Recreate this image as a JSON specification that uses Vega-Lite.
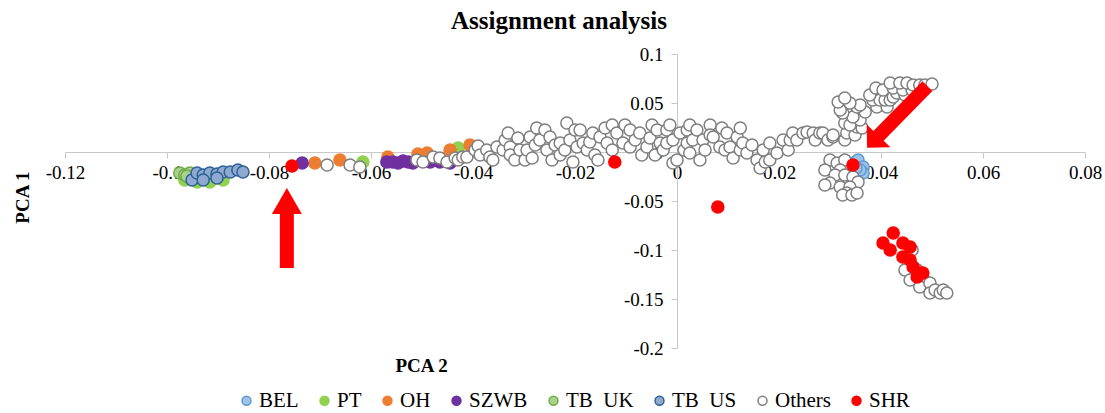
{
  "$schema": "https://vega.github.io/schema/vega-lite/v6.json",
  "width": 1020,
  "height": 294,
  "autosize": {"type": "none"},
  "padding": {"left": 65, "top": 54, "right": 20, "bottom": 65},
  "background": "white",
  "title": {"text": "Assignment analysis", "font": "Liberation Serif", "fontSize": 25, "fontWeight": "bold", "color": "black", "anchor": "middle", "frame": "group", "baseline": "alphabetic", "offset": 24, "dx": -16, "dy": 33},
  "config": {
    "font": "Liberation Serif",
    "view": {"stroke": null},
    "axis": {"grid": false, "domainColor": "#c8c8c8", "tickColor": "#c8c8c8", "tickSize": 6, "labelFont": "Liberation Serif", "labelFontSize": 19, "labelColor": "black", "titleFont": "Liberation Serif", "titleFontSize": 19, "titleFontWeight": "bold", "titleColor": "black", "labelFlush": false, "labelOverlap": false},
    "legend": {"labelFont": "Liberation Serif", "labelFontSize": 21, "labelColor": "black", "symbolType": "circle", "symbolSize": 80, "symbolStrokeWidth": 1.5, "columnPadding": 15, "labelOffset": 2}
  },
  "datasets": {
    "points": [
      {"group": "BEL", "pc2": 0.0345, "pc1": -0.0112},
      {"group": "BEL", "pc2": 0.0355, "pc1": -0.0082},
      {"group": "BEL", "pc2": 0.0365, "pc1": -0.0153},
      {"group": "BEL", "pc2": 0.0365, "pc1": -0.0214},
      {"group": "BEL", "pc2": 0.0359, "pc1": -0.0184},
      {"group": "BEL", "pc2": 0.0351, "pc1": -0.0163},
      {"group": "PT", "pc2": -0.0965, "pc1": -0.0286},
      {"group": "PT", "pc2": -0.0941, "pc1": -0.0306},
      {"group": "PT", "pc2": -0.0916, "pc1": -0.0306},
      {"group": "PT", "pc2": -0.0890, "pc1": -0.0286},
      {"group": "PT", "pc2": -0.0616, "pc1": -0.0102},
      {"group": "PT", "pc2": -0.0429, "pc1": 0.0041},
      {"group": "OH", "pc2": -0.0710, "pc1": -0.0112},
      {"group": "OH", "pc2": -0.0661, "pc1": -0.0082},
      {"group": "OH", "pc2": -0.0567, "pc1": -0.0051},
      {"group": "OH", "pc2": -0.0508, "pc1": -0.0020},
      {"group": "OH", "pc2": -0.0490, "pc1": -0.0010},
      {"group": "OH", "pc2": -0.0445, "pc1": 0.0020},
      {"group": "OH", "pc2": -0.0406, "pc1": 0.0071},
      {"group": "SZWB", "pc2": -0.0735, "pc1": -0.0112},
      {"group": "SZWB", "pc2": -0.0569, "pc1": -0.0102},
      {"group": "SZWB", "pc2": -0.0557, "pc1": -0.0102},
      {"group": "SZWB", "pc2": -0.0547, "pc1": -0.0112},
      {"group": "SZWB", "pc2": -0.0537, "pc1": -0.0092},
      {"group": "SZWB", "pc2": -0.0527, "pc1": -0.0102},
      {"group": "SZWB", "pc2": -0.0518, "pc1": -0.0112},
      {"group": "SZWB", "pc2": -0.0484, "pc1": -0.0102},
      {"group": "SZWB", "pc2": -0.0465, "pc1": -0.0102},
      {"group": "SZWB", "pc2": -0.0445, "pc1": -0.0112},
      {"group": "TB UK", "pc2": -0.0975, "pc1": -0.0214},
      {"group": "TB UK", "pc2": -0.0965, "pc1": -0.0235},
      {"group": "TB UK", "pc2": -0.0955, "pc1": -0.0214},
      {"group": "TB UK", "pc2": -0.0961, "pc1": -0.0245},
      {"group": "TB US", "pc2": -0.0951, "pc1": -0.0286},
      {"group": "TB US", "pc2": -0.0941, "pc1": -0.0214},
      {"group": "TB US", "pc2": -0.0929, "pc1": -0.0235},
      {"group": "TB US", "pc2": -0.0916, "pc1": -0.0214},
      {"group": "TB US", "pc2": -0.0902, "pc1": -0.0224},
      {"group": "TB US", "pc2": -0.0890, "pc1": -0.0204},
      {"group": "TB US", "pc2": -0.0876, "pc1": -0.0204},
      {"group": "TB US", "pc2": -0.0861, "pc1": -0.0184},
      {"group": "TB US", "pc2": -0.0851, "pc1": -0.0204},
      {"group": "TB US", "pc2": -0.0929, "pc1": -0.0286},
      {"group": "TB US", "pc2": -0.0902, "pc1": -0.0265},
      {"group": "Others", "pc2": -0.0686, "pc1": -0.0133},
      {"group": "Others", "pc2": -0.0641, "pc1": -0.0133},
      {"group": "Others", "pc2": -0.0622, "pc1": -0.0153},
      {"group": "Others", "pc2": -0.0510, "pc1": -0.0082},
      {"group": "Others", "pc2": -0.0498, "pc1": -0.0102},
      {"group": "Others", "pc2": -0.0478, "pc1": -0.0051},
      {"group": "Others", "pc2": -0.0465, "pc1": -0.0061},
      {"group": "Others", "pc2": -0.0451, "pc1": -0.0102},
      {"group": "Others", "pc2": -0.0435, "pc1": -0.0061},
      {"group": "Others", "pc2": -0.0429, "pc1": -0.0082},
      {"group": "Others", "pc2": -0.0420, "pc1": -0.0051},
      {"group": "Others", "pc2": -0.0412, "pc1": -0.0051},
      {"group": "Others", "pc2": -0.0396, "pc1": 0.0020},
      {"group": "Others", "pc2": -0.0390, "pc1": 0.0061},
      {"group": "Others", "pc2": -0.0386, "pc1": -0.0031},
      {"group": "Others", "pc2": -0.0373, "pc1": 0.0020},
      {"group": "Others", "pc2": -0.0367, "pc1": -0.0051},
      {"group": "Others", "pc2": -0.0361, "pc1": -0.0082},
      {"group": "Others", "pc2": -0.0353, "pc1": 0.0051},
      {"group": "Others", "pc2": -0.0341, "pc1": 0.0020},
      {"group": "Others", "pc2": -0.0337, "pc1": 0.0122},
      {"group": "Others", "pc2": -0.0331, "pc1": 0.0194},
      {"group": "Others", "pc2": -0.0327, "pc1": 0.0051},
      {"group": "Others", "pc2": -0.0327, "pc1": -0.0031},
      {"group": "Others", "pc2": -0.0318, "pc1": -0.0082},
      {"group": "Others", "pc2": -0.0312, "pc1": 0.0143},
      {"group": "Others", "pc2": -0.0308, "pc1": 0.0020},
      {"group": "Others", "pc2": -0.0298, "pc1": -0.0082},
      {"group": "Others", "pc2": -0.0294, "pc1": 0.0020},
      {"group": "Others", "pc2": -0.0288, "pc1": 0.0153},
      {"group": "Others", "pc2": -0.0284, "pc1": -0.0061},
      {"group": "Others", "pc2": -0.0278, "pc1": 0.0071},
      {"group": "Others", "pc2": -0.0275, "pc1": 0.0245},
      {"group": "Others", "pc2": -0.0269, "pc1": 0.0122},
      {"group": "Others", "pc2": -0.0259, "pc1": 0.0224},
      {"group": "Others", "pc2": -0.0255, "pc1": 0.0020},
      {"group": "Others", "pc2": -0.0249, "pc1": 0.0153},
      {"group": "Others", "pc2": -0.0245, "pc1": -0.0082},
      {"group": "Others", "pc2": -0.0239, "pc1": 0.0071},
      {"group": "Others", "pc2": -0.0229, "pc1": 0.0092},
      {"group": "Others", "pc2": -0.0229, "pc1": -0.0031},
      {"group": "Others", "pc2": -0.0220, "pc1": 0.0020},
      {"group": "Others", "pc2": -0.0216, "pc1": 0.0296},
      {"group": "Others", "pc2": -0.0210, "pc1": 0.0122},
      {"group": "Others", "pc2": -0.0204, "pc1": -0.0102},
      {"group": "Others", "pc2": -0.0200, "pc1": 0.0224},
      {"group": "Others", "pc2": -0.0196, "pc1": 0.0051},
      {"group": "Others", "pc2": -0.0190, "pc1": 0.0224},
      {"group": "Others", "pc2": -0.0184, "pc1": 0.0092},
      {"group": "Others", "pc2": -0.0176, "pc1": 0.0020},
      {"group": "Others", "pc2": -0.0171, "pc1": 0.0102},
      {"group": "Others", "pc2": -0.0165, "pc1": 0.0194},
      {"group": "Others", "pc2": -0.0161, "pc1": -0.0031},
      {"group": "Others", "pc2": -0.0155, "pc1": -0.0082},
      {"group": "Others", "pc2": -0.0151, "pc1": 0.0153},
      {"group": "Others", "pc2": -0.0141, "pc1": 0.0245},
      {"group": "Others", "pc2": -0.0137, "pc1": 0.0092},
      {"group": "Others", "pc2": -0.0127, "pc1": 0.0276},
      {"group": "Others", "pc2": -0.0127, "pc1": 0.0020},
      {"group": "Others", "pc2": -0.0118, "pc1": 0.0194},
      {"group": "Others", "pc2": -0.0106, "pc1": 0.0092},
      {"group": "Others", "pc2": -0.0102, "pc1": 0.0276},
      {"group": "Others", "pc2": -0.0092, "pc1": 0.0051},
      {"group": "Others", "pc2": -0.0092, "pc1": 0.0224},
      {"group": "Others", "pc2": -0.0082, "pc1": 0.0122},
      {"group": "Others", "pc2": -0.0073, "pc1": 0.0194},
      {"group": "Others", "pc2": -0.0069, "pc1": -0.0031},
      {"group": "Others", "pc2": -0.0059, "pc1": 0.0051},
      {"group": "Others", "pc2": -0.0053, "pc1": 0.0143},
      {"group": "Others", "pc2": -0.0049, "pc1": 0.0276},
      {"group": "Others", "pc2": -0.0043, "pc1": -0.0031},
      {"group": "Others", "pc2": -0.0039, "pc1": 0.0224},
      {"group": "Others", "pc2": -0.0033, "pc1": 0.0092},
      {"group": "Others", "pc2": -0.0027, "pc1": 0.0020},
      {"group": "Others", "pc2": -0.0020, "pc1": 0.0224},
      {"group": "Others", "pc2": -0.0020, "pc1": 0.0092},
      {"group": "Others", "pc2": -0.0014, "pc1": 0.0276},
      {"group": "Others", "pc2": -0.0008, "pc1": 0.0122},
      {"group": "Others", "pc2": -0.0008, "pc1": -0.0112},
      {"group": "Others", "pc2": 0.0000, "pc1": -0.0082},
      {"group": "Others", "pc2": 0.0006, "pc1": 0.0194},
      {"group": "Others", "pc2": 0.0014, "pc1": 0.0020},
      {"group": "Others", "pc2": 0.0020, "pc1": 0.0224},
      {"group": "Others", "pc2": 0.0020, "pc1": 0.0092},
      {"group": "Others", "pc2": 0.0025, "pc1": -0.0010},
      {"group": "Others", "pc2": 0.0025, "pc1": 0.0276},
      {"group": "Others", "pc2": 0.0031, "pc1": 0.0122},
      {"group": "Others", "pc2": 0.0039, "pc1": 0.0224},
      {"group": "Others", "pc2": 0.0045, "pc1": -0.0082},
      {"group": "Others", "pc2": 0.0051, "pc1": 0.0122},
      {"group": "Others", "pc2": 0.0055, "pc1": 0.0020},
      {"group": "Others", "pc2": 0.0065, "pc1": 0.0276},
      {"group": "Others", "pc2": 0.0065, "pc1": 0.0173},
      {"group": "Others", "pc2": 0.0071, "pc1": 0.0153},
      {"group": "Others", "pc2": 0.0084, "pc1": 0.0051},
      {"group": "Others", "pc2": 0.0088, "pc1": 0.0245},
      {"group": "Others", "pc2": 0.0094, "pc1": 0.0020},
      {"group": "Others", "pc2": 0.0098, "pc1": 0.0194},
      {"group": "Others", "pc2": 0.0104, "pc1": 0.0051},
      {"group": "Others", "pc2": 0.0110, "pc1": -0.0061},
      {"group": "Others", "pc2": 0.0118, "pc1": 0.0153},
      {"group": "Others", "pc2": 0.0124, "pc1": 0.0245},
      {"group": "Others", "pc2": 0.0124, "pc1": 0.0020},
      {"group": "Others", "pc2": 0.0129, "pc1": 0.0092},
      {"group": "Others", "pc2": 0.0137, "pc1": -0.0010},
      {"group": "Others", "pc2": 0.0147, "pc1": 0.0071},
      {"group": "Others", "pc2": 0.0157, "pc1": -0.0082},
      {"group": "Others", "pc2": 0.0163, "pc1": -0.0163},
      {"group": "Others", "pc2": 0.0169, "pc1": 0.0020},
      {"group": "Others", "pc2": 0.0173, "pc1": -0.0102},
      {"group": "Others", "pc2": 0.0182, "pc1": 0.0092},
      {"group": "Others", "pc2": 0.0182, "pc1": -0.0082},
      {"group": "Others", "pc2": 0.0196, "pc1": -0.0010},
      {"group": "Others", "pc2": 0.0208, "pc1": 0.0122},
      {"group": "Others", "pc2": 0.0218, "pc1": 0.0020},
      {"group": "Others", "pc2": 0.0222, "pc1": 0.0122},
      {"group": "Others", "pc2": 0.0227, "pc1": 0.0194},
      {"group": "Others", "pc2": 0.0235, "pc1": 0.0122},
      {"group": "Others", "pc2": 0.0247, "pc1": 0.0194},
      {"group": "Others", "pc2": 0.0255, "pc1": 0.0204},
      {"group": "Others", "pc2": 0.0267, "pc1": 0.0194},
      {"group": "Others", "pc2": 0.0271, "pc1": 0.0122},
      {"group": "Others", "pc2": 0.0280, "pc1": 0.0194},
      {"group": "Others", "pc2": 0.0286, "pc1": 0.0194},
      {"group": "Others", "pc2": 0.0296, "pc1": 0.0122},
      {"group": "Others", "pc2": 0.0306, "pc1": 0.0153},
      {"group": "Others", "pc2": 0.0306, "pc1": 0.0173},
      {"group": "Others", "pc2": 0.0329, "pc1": 0.0122},
      {"group": "Others", "pc2": 0.0333, "pc1": 0.0194},
      {"group": "Others", "pc2": 0.0349, "pc1": 0.0173},
      {"group": "Others", "pc2": 0.0353, "pc1": 0.0255},
      {"group": "Others", "pc2": 0.0363, "pc1": 0.0245},
      {"group": "Others", "pc2": 0.0329, "pc1": 0.0296},
      {"group": "Others", "pc2": 0.0339, "pc1": 0.0276},
      {"group": "Others", "pc2": 0.0359, "pc1": 0.0327},
      {"group": "Others", "pc2": 0.0345, "pc1": 0.0357},
      {"group": "Others", "pc2": 0.0325, "pc1": 0.0398},
      {"group": "Others", "pc2": 0.0369, "pc1": 0.0408},
      {"group": "Others", "pc2": 0.0320, "pc1": 0.0429},
      {"group": "Others", "pc2": 0.0353, "pc1": 0.0459},
      {"group": "Others", "pc2": 0.0359, "pc1": 0.0480},
      {"group": "Others", "pc2": 0.0339, "pc1": 0.0500},
      {"group": "Others", "pc2": 0.0316, "pc1": 0.0510},
      {"group": "Others", "pc2": 0.0329, "pc1": 0.0551},
      {"group": "Others", "pc2": 0.0392, "pc1": 0.0459},
      {"group": "Others", "pc2": 0.0412, "pc1": 0.0459},
      {"group": "Others", "pc2": 0.0384, "pc1": 0.0531},
      {"group": "Others", "pc2": 0.0398, "pc1": 0.0531},
      {"group": "Others", "pc2": 0.0408, "pc1": 0.0531},
      {"group": "Others", "pc2": 0.0418, "pc1": 0.0531},
      {"group": "Others", "pc2": 0.0378, "pc1": 0.0582},
      {"group": "Others", "pc2": 0.0424, "pc1": 0.0561},
      {"group": "Others", "pc2": 0.0431, "pc1": 0.0602},
      {"group": "Others", "pc2": 0.0447, "pc1": 0.0582},
      {"group": "Others", "pc2": 0.0390, "pc1": 0.0653},
      {"group": "Others", "pc2": 0.0404, "pc1": 0.0633},
      {"group": "Others", "pc2": 0.0424, "pc1": 0.0653},
      {"group": "Others", "pc2": 0.0443, "pc1": 0.0633},
      {"group": "Others", "pc2": 0.0461, "pc1": 0.0633},
      {"group": "Others", "pc2": 0.0418, "pc1": 0.0704},
      {"group": "Others", "pc2": 0.0437, "pc1": 0.0704},
      {"group": "Others", "pc2": 0.0451, "pc1": 0.0704},
      {"group": "Others", "pc2": 0.0463, "pc1": 0.0684},
      {"group": "Others", "pc2": 0.0476, "pc1": 0.0684},
      {"group": "Others", "pc2": 0.0486, "pc1": 0.0684},
      {"group": "Others", "pc2": 0.0500, "pc1": 0.0694},
      {"group": "Others", "pc2": 0.0300, "pc1": -0.0082},
      {"group": "Others", "pc2": 0.0314, "pc1": -0.0112},
      {"group": "Others", "pc2": 0.0329, "pc1": -0.0082},
      {"group": "Others", "pc2": 0.0290, "pc1": -0.0184},
      {"group": "Others", "pc2": 0.0320, "pc1": -0.0184},
      {"group": "Others", "pc2": 0.0310, "pc1": -0.0235},
      {"group": "Others", "pc2": 0.0329, "pc1": -0.0235},
      {"group": "Others", "pc2": 0.0345, "pc1": -0.0255},
      {"group": "Others", "pc2": 0.0355, "pc1": -0.0306},
      {"group": "Others", "pc2": 0.0300, "pc1": -0.0316},
      {"group": "Others", "pc2": 0.0290, "pc1": -0.0337},
      {"group": "Others", "pc2": 0.0320, "pc1": -0.0357},
      {"group": "Others", "pc2": 0.0339, "pc1": -0.0357},
      {"group": "Others", "pc2": 0.0333, "pc1": -0.0418},
      {"group": "Others", "pc2": 0.0325, "pc1": -0.0439},
      {"group": "Others", "pc2": 0.0343, "pc1": -0.0439},
      {"group": "Others", "pc2": 0.0353, "pc1": -0.0418},
      {"group": "Others", "pc2": 0.0461, "pc1": -0.1000},
      {"group": "Others", "pc2": 0.0447, "pc1": -0.1204},
      {"group": "Others", "pc2": 0.0471, "pc1": -0.1204},
      {"group": "Others", "pc2": 0.0482, "pc1": -0.1286},
      {"group": "Others", "pc2": 0.0457, "pc1": -0.1306},
      {"group": "Others", "pc2": 0.0476, "pc1": -0.1378},
      {"group": "Others", "pc2": 0.0496, "pc1": -0.1337},
      {"group": "Others", "pc2": 0.0496, "pc1": -0.1439},
      {"group": "Others", "pc2": 0.0506, "pc1": -0.1408},
      {"group": "Others", "pc2": 0.0516, "pc1": -0.1439},
      {"group": "Others", "pc2": 0.0522, "pc1": -0.1408},
      {"group": "Others", "pc2": 0.0529, "pc1": -0.1439},
      {"group": "SHR", "pc2": -0.0755, "pc1": -0.0143},
      {"group": "SHR", "pc2": -0.0122, "pc1": -0.0102},
      {"group": "SHR", "pc2": 0.0080, "pc1": -0.0561},
      {"group": "SHR", "pc2": 0.0345, "pc1": -0.0133},
      {"group": "SHR", "pc2": 0.0424, "pc1": -0.0827},
      {"group": "SHR", "pc2": 0.0404, "pc1": -0.0929},
      {"group": "SHR", "pc2": 0.0418, "pc1": -0.1000},
      {"group": "SHR", "pc2": 0.0443, "pc1": -0.0929},
      {"group": "SHR", "pc2": 0.0457, "pc1": -0.0969},
      {"group": "SHR", "pc2": 0.0443, "pc1": -0.1071},
      {"group": "SHR", "pc2": 0.0457, "pc1": -0.1102},
      {"group": "SHR", "pc2": 0.0463, "pc1": -0.1173},
      {"group": "SHR", "pc2": 0.0476, "pc1": -0.1235},
      {"group": "SHR", "pc2": 0.0471, "pc1": -0.1276},
      {"group": "SHR", "pc2": 0.0482, "pc1": -0.1235}
    ],
    "shafts": [
      {"pc2": -0.0765, "pc1": -0.1184, "pc2end": -0.0765, "pc1end": -0.0612},
      {"pc2": 0.0392, "pc1": 0.0148, "pc2end": 0.0491, "pc1end": 0.0673}
    ],
    "headUp": [{"pc2": -0.0765, "pc1": -0.0500}],
    "headDiag": [{"pc2": 0.0384, "pc1": 0.0104}]
  },
  "layer": [
    {
      "data": {"name": "points"},
      "mark": {"type": "point", "shape": "circle", "filled": true, "size": 145, "strokeWidth": 1.5, "opacity": 1},
      "encoding": {
        "x": {"field": "pc2", "type": "quantitative", "scale": {"domain": [-0.12, 0.08], "nice": false, "zero": false},
          "axis": {"orient": "bottom", "offset": -196, "values": [-0.12, -0.1, -0.08, -0.06, -0.04, -0.02, 0, 0.02, 0.04, 0.06, 0.08], "labelExpr": "'' + datum.value", "labelPadding": 5, "title": "PCA 2", "titleX": 356, "titleY": 213, "titleBaseline": "middle", "titleAlign": "center"}},
        "y": {"field": "pc1", "type": "quantitative", "scale": {"domain": [-0.2, 0.1], "nice": false, "zero": false},
          "axis": {"orient": "left", "offset": -612, "values": [-0.2, -0.15, -0.1, -0.05, 0, 0.05, 0.1], "labelExpr": "'' + datum.value", "labelPadding": 8, "title": "PCA 1", "titleX": -655, "titleY": 143, "titleBaseline": "middle", "titleAlign": "center", "titleAngle": -90}},
        "fill": {"field": "group", "type": "nominal",
          "scale": {"domain": ["BEL", "PT", "OH", "SZWB", "TB UK", "TB US", "Others", "SHR"], "range": ["#9dc3e6", "#92d050", "#ed7d31", "#7030a0", "#a9d18e", "#8fa9d0", "#ffffff", "#ff0000"]},
          "legend": {"title": null, "orient": "none", "legendX": 171, "legendY": 336, "direction": "horizontal", "columns": 8, "labelFont": "Liberation Serif", "labelExpr": "replace(datum.label, ' ', '\u00a0\u00a0')"}},
        "stroke": {"field": "group", "type": "nominal",
          "scale": {"domain": ["BEL", "PT", "OH", "SZWB", "TB UK", "TB US", "Others", "SHR"], "range": ["#5b9bd5", "#92d050", "#ed7d31", "#7030a0", "#70ad47", "#2e6396", "#7f7f7f", "#ff0000"]},
          "legend": {"title": null, "orient": "none", "legendX": 171, "legendY": 336, "direction": "horizontal", "columns": 8, "labelFont": "Liberation Serif", "labelExpr": "replace(datum.label, ' ', '\u00a0\u00a0')"}}
      }
    },
    {
      "data": {"name": "shafts"},
      "mark": {"type": "rule", "color": "#ff0000", "strokeWidth": 14, "strokeCap": "butt"},
      "encoding": {
        "x": {"field": "pc2", "type": "quantitative"},
        "y": {"field": "pc1", "type": "quantitative"},
        "x2": {"field": "pc2end"},
        "y2": {"field": "pc1end"}
      }
    },
    {
      "data": {"name": "headUp"},
      "mark": {"type": "point", "shape": "triangle-up", "filled": true, "size": 900, "color": "#ff0000", "opacity": 1},
      "encoding": {
        "x": {"field": "pc2", "type": "quantitative"},
        "y": {"field": "pc1", "type": "quantitative"}
      }
    },
    {
      "data": {"name": "headDiag"},
      "mark": {"type": "point", "shape": "M0,-0.5L1,0.5L-1,0.5Z", "filled": true, "size": 1089, "angle": 224, "color": "#ff0000", "opacity": 1},
      "encoding": {
        "x": {"field": "pc2", "type": "quantitative"},
        "y": {"field": "pc1", "type": "quantitative"}
      }
    }
  ]
}
